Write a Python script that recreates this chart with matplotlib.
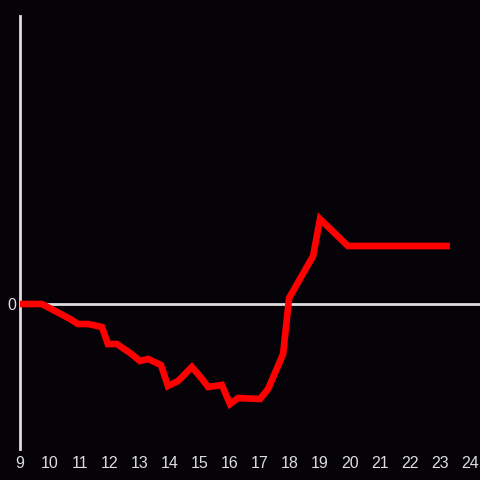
import matplotlib
matplotlib.use("Agg")
import matplotlib.pyplot as plt

# hour of day and change (arbitrary units)
hours = [9.0, 9.73, 10.67, 10.93, 11.27, 11.73, 11.93, 12.23, 12.67, 13.0,
         13.27, 13.7, 13.93, 14.27, 14.73, 15.07, 15.27, 15.73, 16.0, 16.27,
         17.0, 17.27, 17.77, 17.97, 18.77, 19.0, 19.93, 23.33]
values = [0.0, 0.0, -1.5, -2.0, -2.0, -2.3, -4.0, -4.0, -4.9, -5.7,
          -5.5, -6.1, -8.2, -7.7, -6.3, -7.5, -8.3, -8.1, -10.0, -9.4,
          -9.5, -8.5, -5.0, 0.6, 4.8, 8.5, 5.8, 5.8]
xticks = list(range(9, 25))

bg = "#050308"
fg = "#dddddd"

fig = plt.figure(figsize=(4.8, 4.8), dpi=100, facecolor=bg)
ax = fig.add_axes([20 / 480, 31 / 480, 460 / 480, 433 / 480])
ax.set_facecolor(bg)

ax.plot(hours, values, color="#ff0000", lw=4.8,
        solid_joinstyle="miter", solid_capstyle="butt", zorder=3)
ax.axhline(0, color=fg, lw=2, zorder=2)

ax.set_xlim(9, 24 + 10 / 30)
ax.set_ylim(-14.5, 28.8)

for s in ["top", "right", "bottom"]:
    ax.spines[s].set_visible(False)
ax.spines["left"].set_color(fg)
ax.spines["left"].set_linewidth(2)

ax.set_xticks(xticks)
ax.set_xticklabels([str(t) for t in xticks])
ax.set_yticks([0])
ax.set_yticklabels(["0"])
ax.tick_params(length=0, colors=fg, labelsize=11.5)
ax.tick_params(axis="x", pad=5)
ax.tick_params(axis="y", pad=3)
for lab in ax.get_xticklabels() + ax.get_yticklabels():
    lab.set_family("Liberation Sans")

fig.savefig("out.png", dpi=100, facecolor=bg)
